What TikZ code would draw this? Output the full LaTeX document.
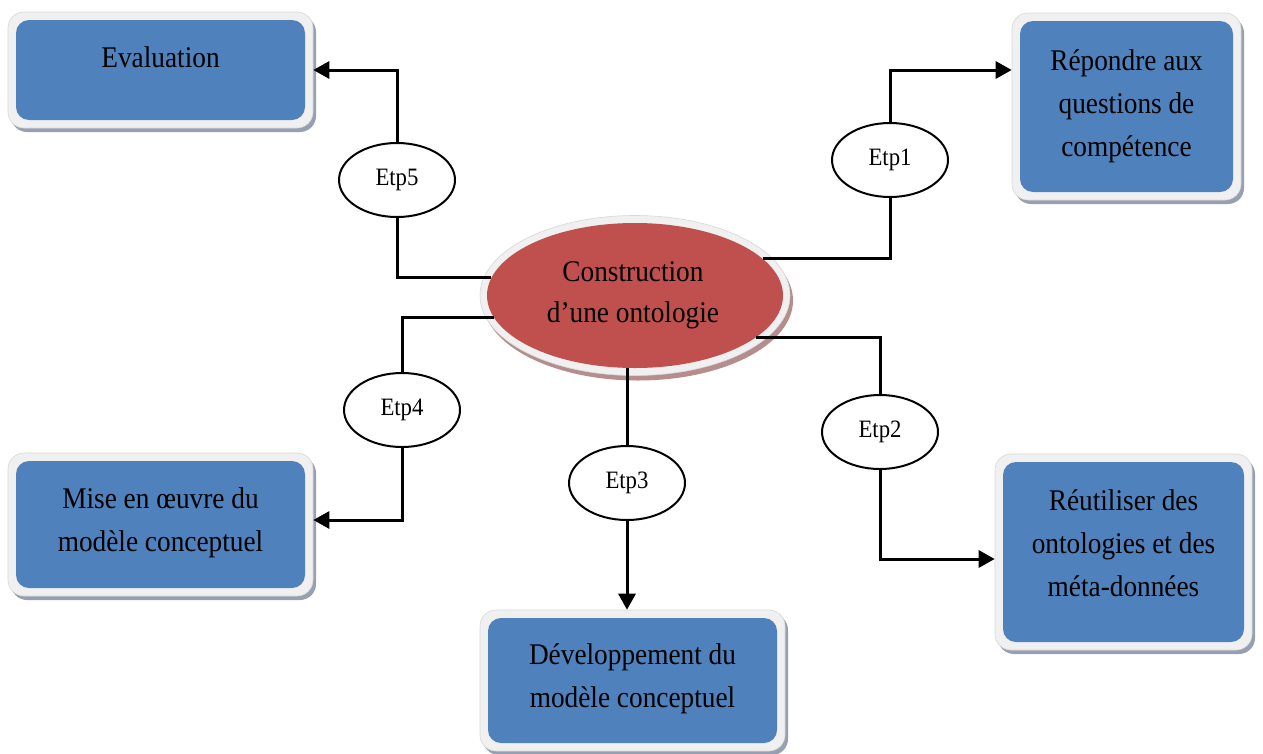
\documentclass[tikz,border=0pt]{standalone}
\usepackage{fontspec}
\setmainfont{Liberation Serif}[FakeStretch=0.91]
\usetikzlibrary{shapes.geometric,arrows.meta,shadows}

\definecolor{panelblue}{RGB}{79,129,189}
\definecolor{corered}{RGB}{192,80,77}
\definecolor{framefill}{RGB}{240,240,240}
\definecolor{framedraw}{RGB}{215,215,215}
\definecolor{panelshadow}{RGB}{150,160,178}
\definecolor{coreshadow}{RGB}{182,140,140}

\tikzset{
  frame/.style={rectangle, rounded corners=16pt, fill=framefill, draw=framedraw,
    line width=0.6pt, inner sep=0pt,
    drop shadow={shadow xshift=3pt, shadow yshift=-4pt, fill=panelshadow, opacity=1}},
  panel/.style={rectangle, rounded corners=13pt, fill=panelblue, inner sep=0pt},
  caption/.style={anchor=north, inner sep=0pt, align=center,
    font=\fontsize{30}{43}\selectfont},
  stepoval/.style={ellipse, draw, fill=white, line width=2pt, inner sep=0pt,
    minimum width=116, minimum height=74, font=\fontsize{25}{30}\selectfont},
  conn/.style={line width=3pt},
  arr/.style={line width=3pt, -{Triangle[length=16pt,width=17pt]}},
}

\begin{document}
\begin{tikzpicture}[x=1pt,y=-1pt]
\useasboundingbox (0,0) rectangle (1263,753);

% central topic
\node[ellipse, fill=framefill, draw=framedraw, line width=0.6pt, inner sep=0pt,
      minimum width=310, minimum height=160,
      drop shadow={shadow xshift=3pt, shadow yshift=-5pt, fill=coreshadow, opacity=1}]
      (cF) at (635,295.5) {};
\node[ellipse, fill=corered, inner sep=0pt, minimum width=296, minimum height=145]
      (c) at (635,295.5) {};
\node[caption, font=\fontsize{30}{41}\selectfont] (ct) at (633,261)
      {Construction\\d’une ontologie};

% outcome panels
\node[frame, minimum width=305, minimum height=116] (evalF) at (160.5,70) {};
\node[panel, minimum width=289, minimum height=100] (eval) at (160.5,70) {};
\node[caption] (evalT) at (160.5,46) {Evaluation};

\node[frame, minimum width=229, minimum height=187] (repF) at (1126.5,106.5) {};
\node[panel, minimum width=213, minimum height=171] (rep) at (1126.5,106.5) {};
\node[caption] (repT) at (1126.5,49) {Répondre aux\\questions de\\compétence};

\node[frame, minimum width=305, minimum height=143] (miseF) at (160.5,524.5) {};
\node[panel, minimum width=289, minimum height=127] (mise) at (160.5,524.5) {};
\node[caption] (miseT) at (160.5,487) {Mise en œuvre du\\modèle conceptuel};

\node[frame, minimum width=305, minimum height=141] (devF) at (632.5,680.5) {};
\node[panel, minimum width=289, minimum height=125] (dev) at (632.5,680.5) {};
\node[caption] (devT) at (632.5,643) {Développement du\\modèle conceptuel};

\node[frame, minimum width=257, minimum height=196] (reuF) at (1123.5,552) {};
\node[panel, minimum width=241, minimum height=180] (reu) at (1123.5,552) {};
\node[caption] (reuT) at (1123.5,489) {Réutiliser des\\ontologies et des\\méta-données};

% steps
\node[stepoval] (e1) at (890,160) {Etp1};
\node[stepoval] (e2) at (880,432) {Etp2};
\node[stepoval] (e3) at (627,483) {Etp3};
\node[stepoval] (e4) at (402,410) {Etp4};
\node[stepoval] (e5) at (397,180) {Etp5};

% connectors
\draw[conn] (c.16) -| (e1.south);
\draw[arr] (e1.north) |- ([yshift=36.5pt]repF.west);

\draw[conn] (c.-19) -| (e2.north);
\draw[arr] (e2.south) |- ([yshift=-7pt]reuF.west);

\draw[conn] (e3.north |- c.south) -- (e3.north);
\draw[arr] (e3.south) -- (e3.south |- devF.north);

\draw[conn] (c.189) -| (e4.north);
\draw[arr] (e4.south) |- ([yshift=4.5pt]miseF.east);

\draw[conn] (c.173) -| (e5.south);
\draw[arr] (e5.north) |- (evalF.east);
\end{tikzpicture}
\end{document}
